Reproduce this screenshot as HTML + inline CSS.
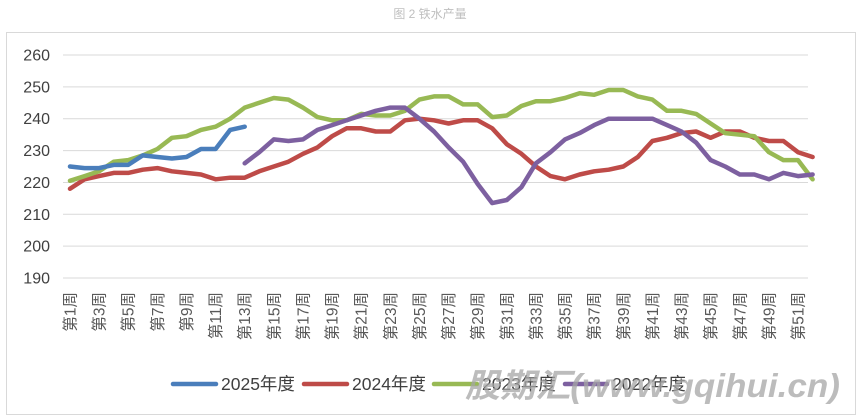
<!DOCTYPE html>
<html><head><meta charset="utf-8"><style>
body{margin:0;background:#fff;}
svg{display:block;font-family:"Liberation Sans","Noto Sans CJK SC",sans-serif;}
</style></head><body>
<svg id="s" width="860" height="418" viewBox="0 0 860 418" xmlns="http://www.w3.org/2000/svg">
<rect width="860" height="418" fill="#fff"/>
<text x="430" y="18" text-anchor="middle" font-size="12" fill="#bfbfbf">图 2 铁水产量</text>
<rect x="6.5" y="32.5" width="849" height="382" fill="#fff" stroke="#d9d9d9"/>
<g id="grid"></g>
<g id="xl" font-size="15.5" fill="#595959"></g>
<g id="lines" fill="none" stroke-width="4.5" stroke-linejoin="round" stroke-linecap="round"></g>
<g font-size="17.5" fill="#404040">
<line x1="173" y1="384" x2="216" y2="384" stroke="#4a7ebb" stroke-width="4.5" stroke-linecap="round"/>
<text x="221" y="390">2025年度</text>
<line x1="304" y1="384" x2="347" y2="384" stroke="#be4b48" stroke-width="4.5" stroke-linecap="round"/>
<text x="352" y="390">2024年度</text>
<line x1="434" y1="384" x2="477" y2="384" stroke="#98b954" stroke-width="4.5" stroke-linecap="round"/>
<text x="482" y="390">2023年度</text>
<line x1="565" y1="384" x2="607" y2="384" stroke="#7d60a0" stroke-width="4.5" stroke-linecap="round"/>
<text x="612" y="390">2022年度</text>
</g>
<text x="465" y="397" font-size="33" font-weight="bold" font-style="italic" fill="#a6a6a6" fill-opacity="0.75" textLength="375" lengthAdjust="spacingAndGlyphs">股期汇(www.gqihui.cn)</text>
</svg>
<script>
var NS="http://www.w3.org/2000/svg",s=document.getElementById('s');
function Y(v){return 55+(260-v)*3.186;}
function X(w){return 70+14.56*(w-1);}
function el(p,t,a,txt){var e=document.createElementNS(NS,t);for(var k in a)e.setAttribute(k,a[k]);if(txt)e.textContent=txt;document.getElementById(p).appendChild(e);return e;}
for(var v=190;v<=260;v+=10){var y=Y(v);el('grid','line',{x1:63,x2:808,y1:y,y2:y,stroke:'#d9d9d9','stroke-width':1});
el('grid','text',{x:50,y:y+5.5,'text-anchor':'end','font-size':16,fill:'#404040'},String(v));}
for(var w=1;w<=51;w+=2){var x=X(w)+5.5;el('xl','text',{transform:'translate('+x+',292) rotate(-90)','text-anchor':'end'},'第'+w+'周');}
var d={
'#be4b48':[1,[218,221,222,223,223,224,224.5,223.5,223,222.5,221,221.5,221.5,223.5,225,226.5,229,231,234.5,237,237,236,236,239.5,240,239.5,238.5,239.5,239.5,237,232,229,225,222,221,222.5,223.5,224,225,228,233,234,235.5,236,234,236,236,234,233,233,229.5,228]],
'#98b954':[1,[220.5,222,223.5,226.5,227,228.5,230.5,234,234.5,236.5,237.5,240,243.5,245,246.5,246,243.5,240.5,239.5,239.5,241.5,241,241,242.5,246,247,247,244.5,244.5,240.5,241,244,245.5,245.5,246.5,248,247.5,249,249,247,246,242.5,242.5,241.5,238.5,235.5,235,234.5,229.5,227,227,221]],
'#7d60a0':[13,[226,229.5,233.5,233,233.5,236.5,238,239.5,241,242.5,243.5,243.5,240,236,231,226.5,219.5,213.5,214.5,218.5,226,229.5,233.5,235.5,238,240,240,240,240,238,236,232.5,227,225,222.5,222.5,221,223,222,222.5]],
'#4a7ebb':[1,[225,224.5,224.5,225.5,225.5,228.5,228,227.5,228,230.5,230.5,236.5,237.5]]};
for(var c in d){var st=d[c][0],a=d[c][1],p=[];for(var i=0;i<a.length;i++)p.push(X(st+i).toFixed(1)+','+Y(a[i]).toFixed(1));
el('lines','polyline',{points:p.join(' '),stroke:c});}
</script>
</body></html>
